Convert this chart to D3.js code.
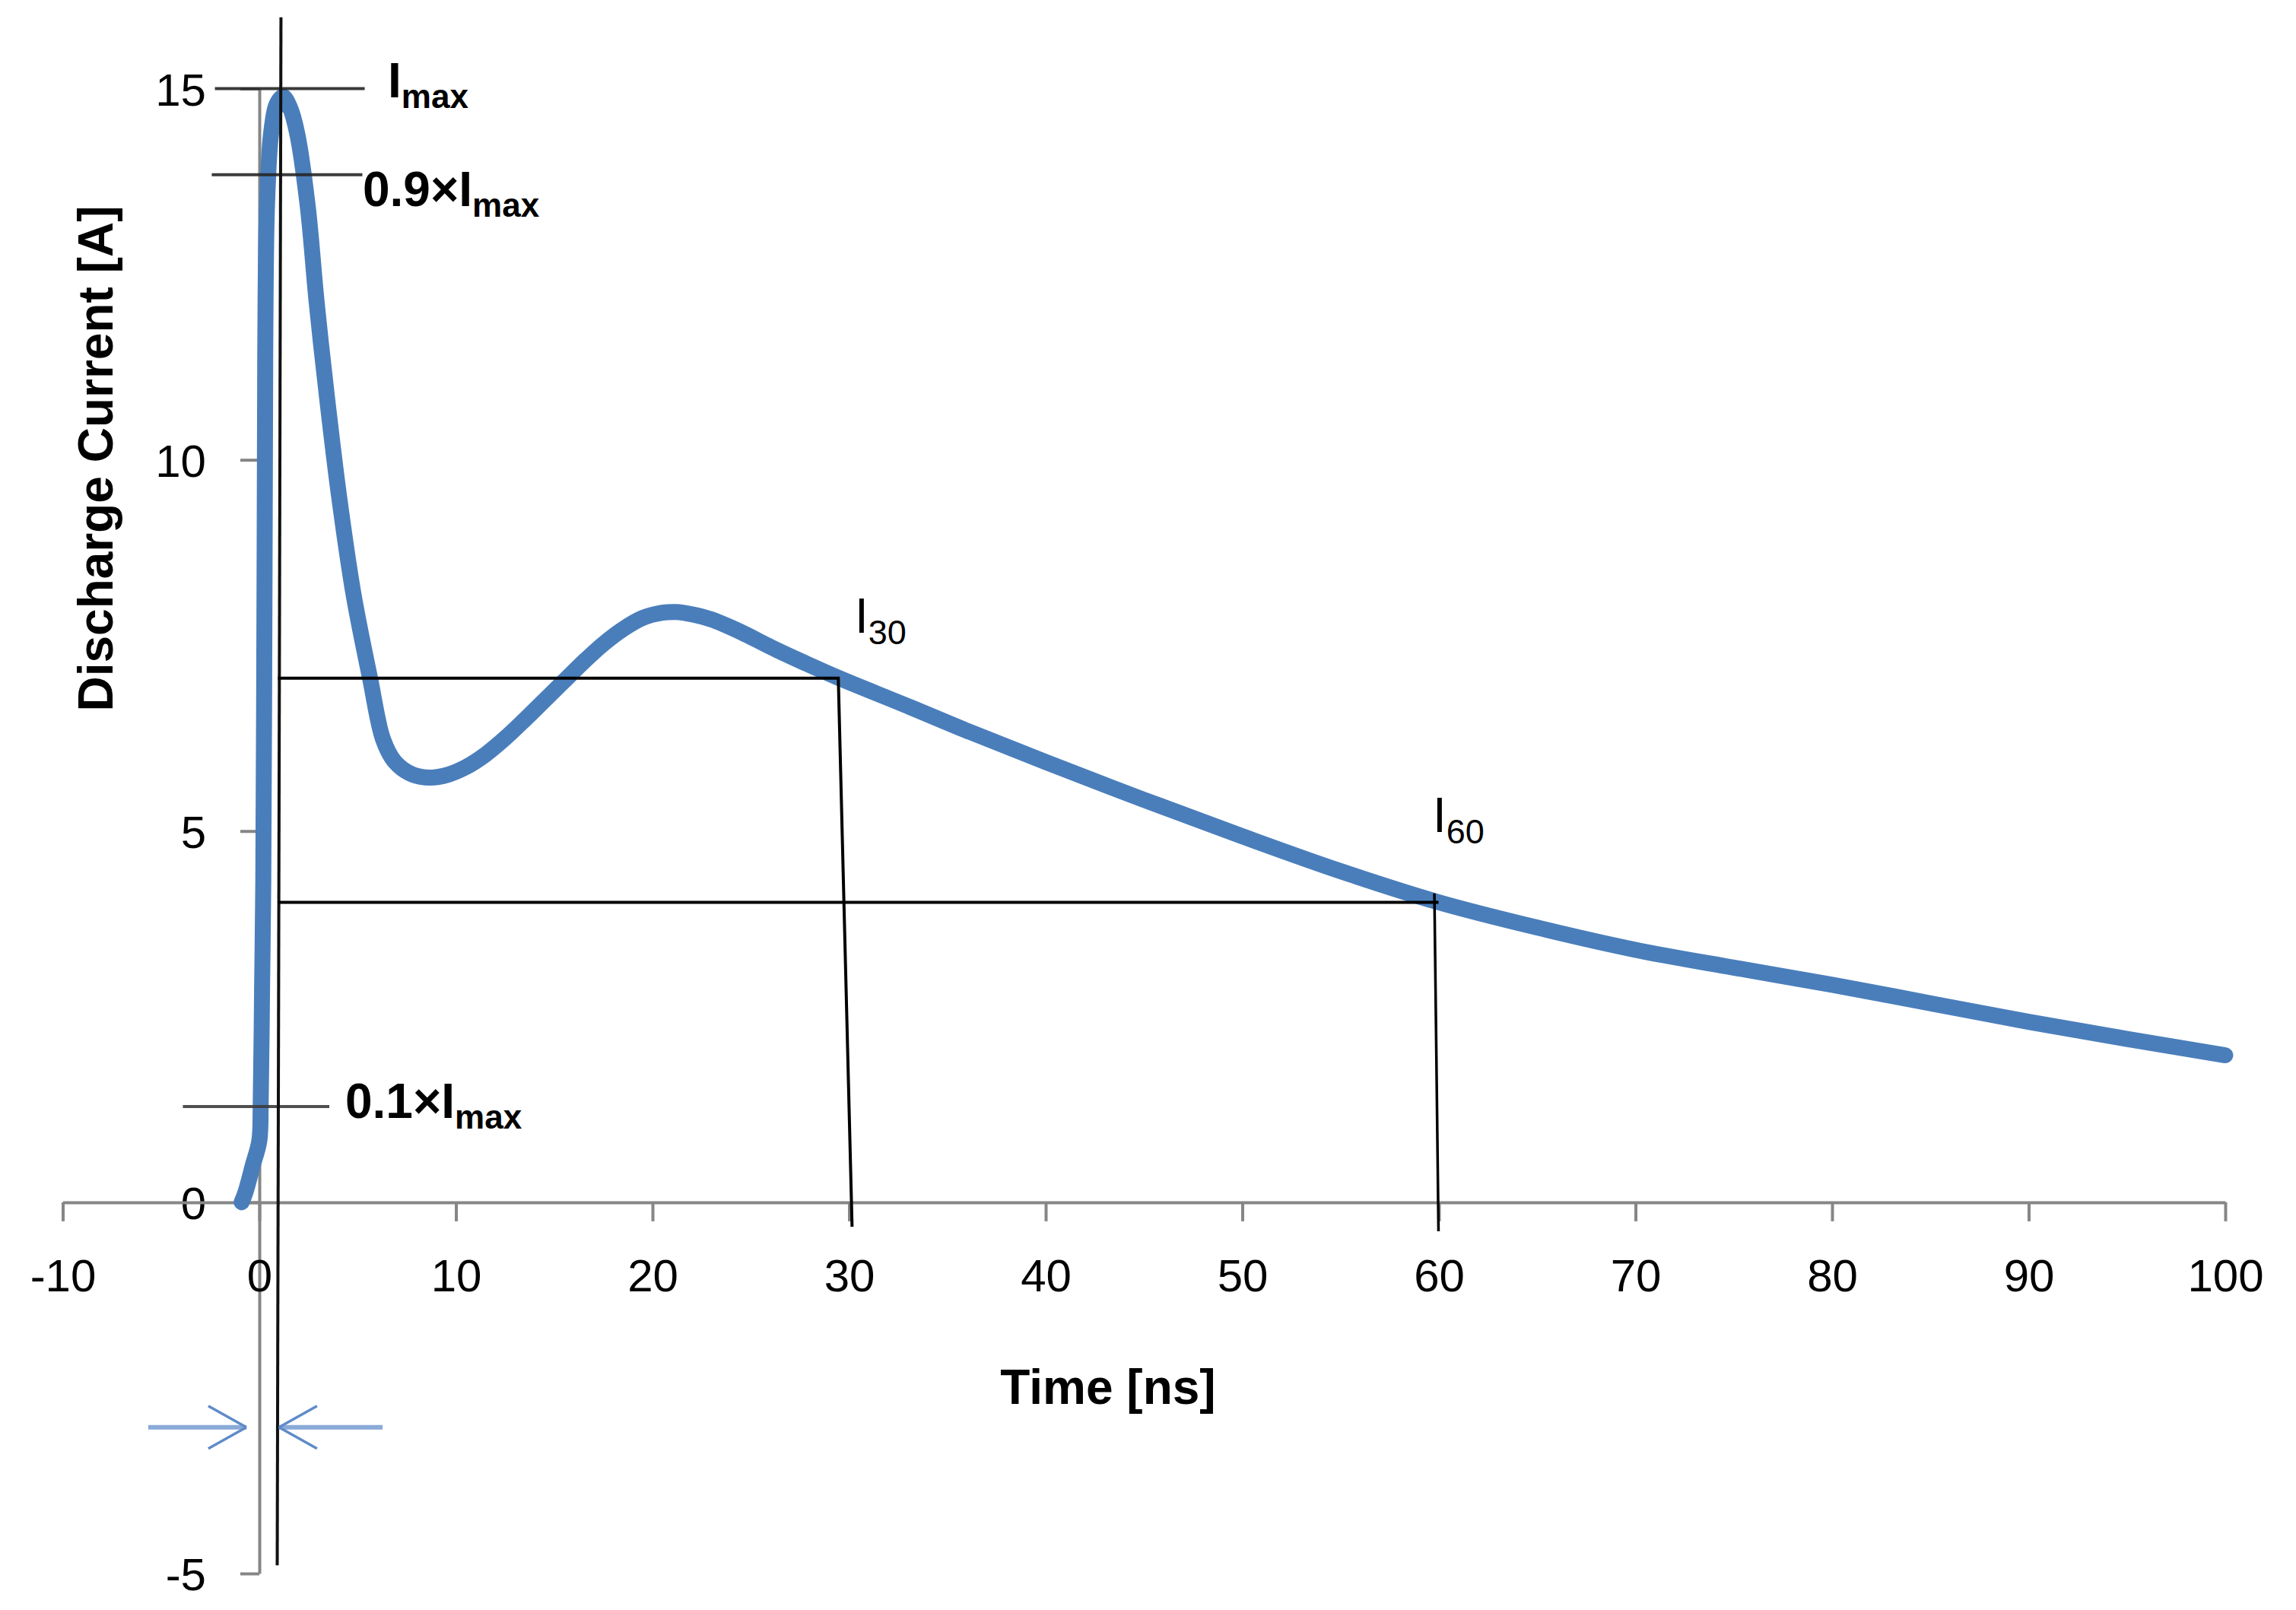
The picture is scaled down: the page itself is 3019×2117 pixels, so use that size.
<!DOCTYPE html>
<html>
<head>
<meta charset="utf-8">
<script src="https://cdn.jsdelivr.net/npm/d3@7"></script>
<style>
  html, body { margin: 0; padding: 0; background: #ffffff; }
  svg { display: block; }
  text { font-family: "Liberation Sans", Arial, sans-serif; fill: #000; }
</style>
</head>
<body>
<svg id="chart" width="3019" height="2117"></svg>
<script>
// ---------------- data ----------------
const timeNs = [-0.9, -0.7, -0.33, 0, 0.07, 0.14, 0.2, 0.27, 0.3, 0.39, 0.6, 0.9, 1.21, 1.55, 1.93, 2.46, 2.92, 3.46, 4.06, 4.79, 5.63, 6.3, 6.9, 7.8, 8.7, 9.6, 10.5, 11.5, 12.5, 13.5, 14.5, 15.5, 16.5, 17.5, 18.5, 19.5, 20.5, 21.2, 22.0, 23.0, 24.5, 26.0, 27.7, 29.4, 33.1, 36, 40, 45, 50, 55, 60, 65, 70, 75, 80, 85, 90, 95, 100];
const currentA = [0, 0.14, 0.5, 0.83, 1.34, 2.9, 4.3, 8.84, 11.45, 13.42, 14.4, 14.8, 14.89, 14.75, 14.39, 13.42, 12.11, 10.8, 9.5, 8.19, 7.06, 6.23, 5.93, 5.76, 5.72, 5.76, 5.86, 6.03, 6.25, 6.5, 6.76, 7.02, 7.28, 7.52, 7.72, 7.87, 7.94, 7.95, 7.92, 7.85, 7.68, 7.48, 7.27, 7.07, 6.67, 6.35, 5.93, 5.42, 4.93, 4.46, 4.04, 3.7, 3.4, 3.16, 2.93, 2.68, 2.43, 2.2, 1.98];

const xTicks = [-10, 0, 10, 20, 30, 40, 50, 60, 70, 80, 90, 100];
const yTicks = [-5, 0, 5, 10, 15];
const xTitle = "Time [ns]";
const yTitle = "Discharge Current [A]";

// annotation geometry in data units (time ns, current A)
const markerLevels = [15.0, 13.84, 1.29];            // Imax, 0.9×Imax, 0.1×Imax guide lines
const markerSpans = [[-2.26, 5.36], [-2.42, 5.24], [-3.89, 3.56]];
const refLine = [[1.1, 15.96], [0.91, -4.89]];        // vertical line at peak time
const i30Path = [[0.95, 7.06], [29.45, 7.06], [30.15, -0.33]];
const i60Path = [[0.95, 4.04], [59.98, 4.04]];
const i60Drop = [[59.77, 4.16], [59.98, -0.39]];
const arrowLeft = [[-5.65, -3.03], [-0.66, -3.03]];
const arrowRight = [[6.27, -3.03], [1.0, -3.03]];

const boldLabels = [
  { main: "I", sub: "max", t: 6.54, i: 14.88 },
  { main: "0.9×I", sub: "max", t: 5.26, i: 13.42 },
  { main: "0.1×I", sub: "max", t: 4.37, i: 1.14 }
];
const plainLabels = [
  { main: "I", sub: "30", t: 30.29, i: 7.67 },
  { main: "I", sub: "60", t: 59.69, i: 4.99 }
];

// ---------------- layout ----------------
const svg = d3.select("#chart");
svg.append("rect").attr("width", 3019).attr("height", 2117).attr("fill", "#fff");

const x = d3.scaleLinear().domain([-10, 100]).range([82.5, 2926]);
const y = d3.scaleLinear().domain([-5, 15]).range([2069, 116.5]);

const axisColor = "#868686";
const fmt = d => String(d);

// y axis (at t = 0)
const yAxisG = svg.append("g").attr("transform", `translate(${x(0)},0)`)
  .call(d3.axisLeft(y).tickValues(yTicks).tickSize(25).tickSizeOuter(0).tickPadding(45).tickFormat(fmt));
// x axis (at I = 0)
const xAxisG = svg.append("g").attr("transform", `translate(0,${y(0)})`)
  .call(d3.axisBottom(x).tickValues(xTicks).tickSize(25).tickSizeOuter(0).tickFormat(fmt));

[yAxisG, xAxisG].forEach(g => {
  g.select(".domain").attr("stroke", axisColor).attr("stroke-width", 4);
  g.selectAll(".tick line").attr("stroke", axisColor).attr("stroke-width", 4);
  g.selectAll(".tick text").attr("fill", "#000")
    .style("font-family", '"Liberation Sans", Arial, sans-serif').style("font-size", "60px");
});
yAxisG.selectAll(".tick text").attr("dy", "0.36em");
xAxisG.selectAll(".tick text").attr("y", 117).attr("dy", null);

// axis titles
svg.append("text").text(xTitle)
  .attr("x", 1457).attr("y", 1846)
  .attr("text-anchor", "middle").style("font-size", "64px").style("font-weight", "bold");
svg.append("text").text(yTitle)
  .attr("transform", `translate(148,603) rotate(-90)`)
  .attr("text-anchor", "middle").style("font-size", "64px").style("font-weight", "bold");

// ---------------- series ----------------
const series = timeNs.map((t, k) => [t, currentA[k]]);
svg.append("path").datum(series)
  .attr("fill", "none").attr("stroke", "#4a7ebb").attr("stroke-width", 21)
  .attr("stroke-linecap", "round").attr("stroke-linejoin", "round")
  .attr("d", d3.line().x(d => x(d[0])).y(d => y(d[1])).curve(d3.curveCatmullRom.alpha(0.5)));

// ---------------- annotations ----------------
const seg = d3.line().x(d => x(d[0])).y(d => y(d[1]));
markerLevels.forEach((lv, k) => {
  svg.append("path").datum([[markerSpans[k][0], lv], [markerSpans[k][1], lv]])
    .attr("d", seg).attr("fill", "none").attr("stroke", k === 2 ? "#3c3c3c" : "#262626")
    .attr("stroke-width", 4).attr("stroke-opacity", 0.9);
});
svg.append("path").datum(refLine).attr("d", seg).attr("fill", "none")
  .attr("stroke", "#111").attr("stroke-width", 4);
svg.append("path").datum(i30Path).attr("d", seg).attr("fill", "none")
  .attr("stroke", "#000").attr("stroke-width", 4);
svg.append("path").datum(i60Path).attr("d", seg).attr("fill", "none")
  .attr("stroke", "#000").attr("stroke-width", 4);
svg.append("path").datum(i60Drop).attr("d", seg).attr("fill", "none")
  .attr("stroke", "#000").attr("stroke-width", 3.5);

// arrows
function arrow(pts) {
  const x0 = x(pts[0][0]), y0 = y(pts[0][1]);
  const x1 = x(pts[1][0]), y1 = y(pts[1][1]);
  const dir = Math.sign(x1 - x0);
  svg.append("line").attr("x1", x0).attr("y1", y0).attr("x2", x1).attr("y2", y1)
    .attr("stroke", "#8aaad8").attr("stroke-width", 6);
  [-1, 1].forEach(s => {
    svg.append("line").attr("x1", x1 - dir * 50).attr("y1", y1 + s * 28)
      .attr("x2", x1).attr("y2", y1)
      .attr("stroke", "#5f8bc8").attr("stroke-width", 3.5);
  });
}
arrow(arrowLeft);
arrow(arrowRight);

// labels
boldLabels.forEach(l => {
  const t = svg.append("text").attr("x", x(l.t)).attr("y", y(l.i))
    .style("font-size", "64px").style("font-weight", "bold");
  t.append("tspan").text(l.main);
  t.append("tspan").text(l.sub).attr("dy", 14).style("font-size", "44px");
});
plainLabels.forEach(l => {
  const t = svg.append("text").attr("x", x(l.t)).attr("y", y(l.i))
    .style("font-size", "64px");
  t.append("tspan").text(l.main);
  t.append("tspan").text(l.sub).attr("dy", 15).style("font-size", "45px");
});
</script>
</body>
</html>
